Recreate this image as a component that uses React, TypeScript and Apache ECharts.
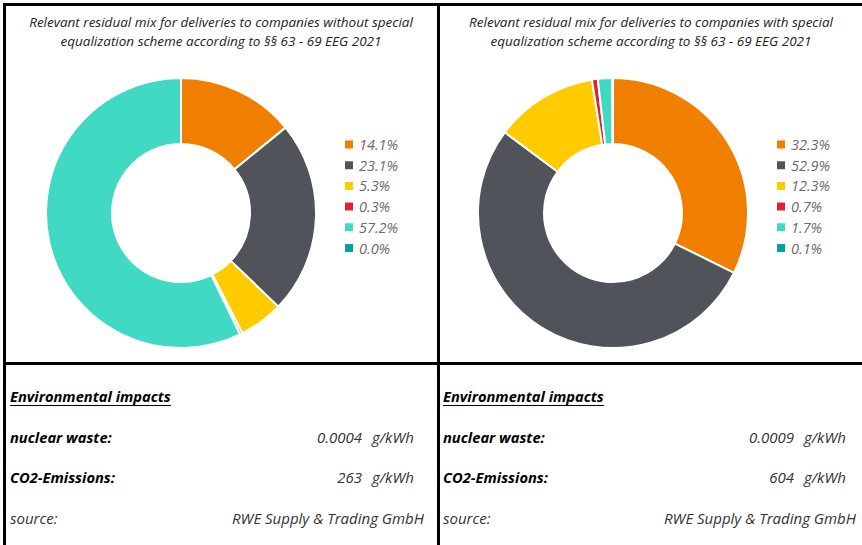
import React, { useEffect, useRef } from "react";
import * as echarts from "echarts";

const leftShares = [14.1, 23.1, 5.3, 0.3, 57.2, 0.0];
const rightShares = [32.3, 52.9, 12.3, 0.7, 1.7, 0.1];
const sliceColors = ["#f07f00", "#50535a", "#fecb00", "#e5202e", "#3fd9c4", "#00a19b"];
const leftTitle = ["Relevant residual mix for deliveries to companies without special", "equalization scheme according to §§ 63 - 69 EEG 2021"];
const rightTitle = ["Relevant residual mix for deliveries to companies with special", "equalization scheme according to §§ 63 - 69 EEG 2021"];
const nuclearWaste = ["0.0004", "0.0009"];
const co2Emissions = ["263", "604"];
const unit = "g/kWh";
const sourceName = "RWE Supply & Trading GmbH";

const FONT = "'Open Sans', 'Noto Sans', sans-serif";

const pctName = (v: number) => v.toFixed(1) + "%";

export default function App() {
  const ref = useRef<HTMLDivElement>(null);
  useEffect(() => {
    if (!ref.current) return;
    const chart = echarts.init(ref.current, null, { renderer: "svg" });
    const panels = [
      { cx: 181, px: 221, shares: leftShares, title: leftTitle, legendX: 338, textX: 10, numRight: 362, unitX: 372, srcRight: 424 },
      { cx: 613, px: 651, shares: rightShares, title: rightTitle, legendX: 770, textX: 443, numRight: 794, unitX: 804, srcRight: 856 },
    ];
    const graphics: any[] = [];
    const black = "#000";
    graphics.push({ type: "rect", shape: { x: 3, y: 3, width: 862, height: 3 }, style: { fill: black }, silent: true });
    graphics.push({ type: "rect", shape: { x: 3, y: 3, width: 3, height: 545 }, style: { fill: black }, silent: true });
    graphics.push({ type: "rect", shape: { x: 437, y: 3, width: 3, height: 545 }, style: { fill: black }, silent: true });
    graphics.push({ type: "rect", shape: { x: 3, y: 362, width: 862, height: 3 }, style: { fill: black }, silent: true });
    const regular = `italic 15px ${FONT}`;
    const bold = `italic bold 14.7px ${FONT}`;
    panels.forEach((p, i) => {
      p.title.forEach((t, j) => {
        graphics.push({
          type: "text", x: p.px, y: 22 + j * 19,
          style: { text: t, font: `italic 13.5px ${FONT}`, fill: "#222", align: "center", verticalAlign: "middle" },
        });
      });
      graphics.push({
        type: "text", x: p.textX, y: 396,
        style: { text: "Environmental impacts", font: bold, fill: "#000", verticalAlign: "middle" },
      });
      graphics.push({ type: "line", shape: { x1: p.textX, y1: 405.5, x2: p.textX + 161, y2: 405.5 }, style: { stroke: "#000", lineWidth: 1 } });
      graphics.push({
        type: "text", x: p.textX, y: 437,
        style: { text: "nuclear waste:", font: bold, fill: "#000", verticalAlign: "middle" },
      });
      graphics.push({
        type: "text", x: p.textX, y: 477,
        style: { text: "CO2-Emissions:", font: bold, fill: "#000", verticalAlign: "middle" },
      });
      graphics.push({
        type: "text", x: p.textX, y: 518,
        style: { text: "source:", font: regular, fill: "#333", verticalAlign: "middle" },
      });
      graphics.push({
        type: "text", x: p.numRight, y: 437,
        style: { text: nuclearWaste[i], font: regular, fill: "#333", align: "right", verticalAlign: "middle" },
      });
      graphics.push({
        type: "text", x: p.unitX, y: 437,
        style: { text: unit, font: regular, fill: "#333", verticalAlign: "middle" },
      });
      graphics.push({
        type: "text", x: p.numRight, y: 477,
        style: { text: co2Emissions[i], font: regular, fill: "#333", align: "right", verticalAlign: "middle" },
      });
      graphics.push({
        type: "text", x: p.unitX, y: 477,
        style: { text: unit, font: regular, fill: "#333", verticalAlign: "middle" },
      });
      graphics.push({
        type: "text", x: p.srcRight, y: 518,
        style: { text: sourceName, font: regular, fill: "#333", align: "right", verticalAlign: "middle" },
      });
    });

    chart.setOption({
      animation: false,
      backgroundColor: "#fff",
      legend: panels.map((p) => ({
        orient: "vertical",
        left: p.legendX,
        top: 132,
        itemWidth: 10,
        itemHeight: 10,
        itemGap: 5.7,
        icon: "rect",
        data: p.shares.map(pctName),
        textStyle: { fontFamily: FONT, fontStyle: "italic", fontSize: 14.5, color: "#6a6a6a", lineHeight: 14 },
        selectedMode: false,
      })),
      series: panels.map((p) => ({
        type: "pie",
        center: [p.cx, 213],
        radius: [69, 135],
        startAngle: 90,
        clockwise: true,
        avoidLabelOverlap: false,
        label: { show: false },
        labelLine: { show: false },
        emphasis: { disabled: true },
        itemStyle: { borderColor: "#fff", borderWidth: 2 },
        data: p.shares.map((v, k) => ({ name: pctName(v), value: v, itemStyle: { color: sliceColors[k] } })),
      })),
      graphic: graphics,
    });
    return () => chart.dispose();
  }, []);
  return <div ref={ref} style={{ position: "absolute", left: 0, top: 0, width: 862, height: 545 }} />;
}
